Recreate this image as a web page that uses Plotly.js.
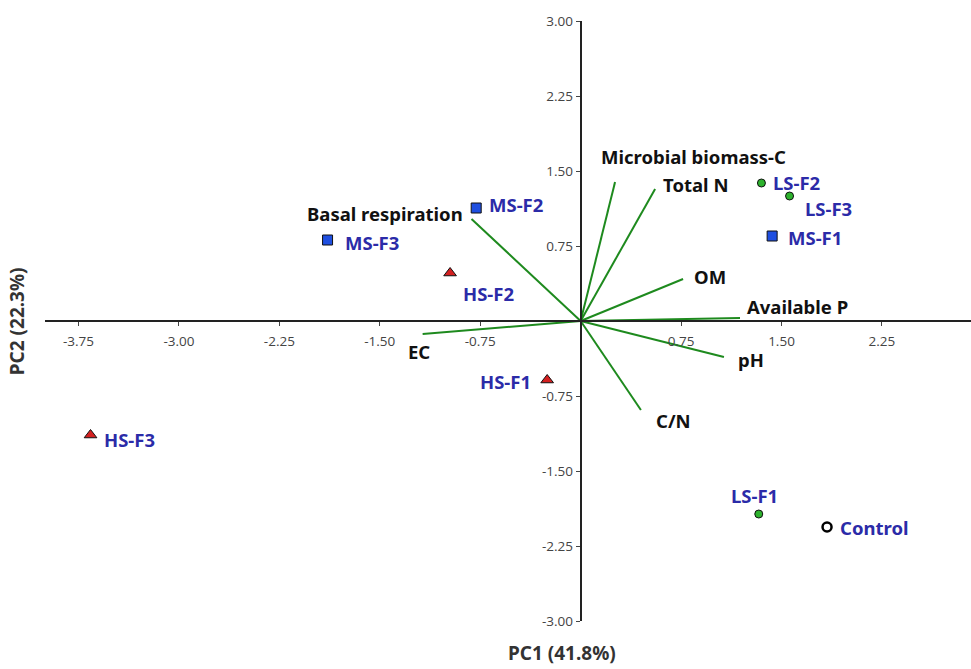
<!DOCTYPE html>
<html>
<head>
<meta charset="utf-8">
<script src="https://cdn.plot.ly/plotly-3.0.1.min.js"></script>
<style>html,body{margin:0;padding:0;background:#fff;}#chart{width:971px;height:669px;}</style>
</head>
<body>
<div id="chart"></div>
<script>
// Sample scores
const msNames = ["MS-F1", "MS-F2", "MS-F3"];
const msX = [1.43, -0.78, -1.89];
const msY = [0.85, 1.13, 0.81];

const hsNames = ["HS-F1", "HS-F2", "HS-F3"];
const hsX = [-0.25, -0.975, -3.66];
const hsY = [-0.59, 0.48, -1.14];

const lsNames = ["LS-F1", "LS-F2", "LS-F3"];
const lsX = [1.33, 1.35, 1.56];
const lsY = [-1.93, 1.38, 1.25];

const ctrlNames = ["Control"];
const ctrlX = [1.84];
const ctrlY = [-2.06];

// Variable loadings (arrow end points)
const varNames = ["Basal respiration", "Microbial biomass-C", "Total N", "OM", "Available P", "EC", "pH", "C/N"];
const varX = [-0.815, 0.257, 0.556, 0.765, 1.19, -1.18, 1.07, 0.45];
const varY = [1.02, 1.39, 1.32, 0.42, 0.03, -0.13, -0.36, -0.89];

// Tick labels
const xTickVals = [-3.75, -3.00, -2.25, -1.50, -0.75, 0.75, 1.50, 2.25];
const xTickText = ["-3.75", "-3.00", "-2.25", "-1.50", "-0.75", "0.75", "1.50", "2.25"];
const yTickVals = [3.00, 2.25, 1.50, 0.75, -0.75, -1.50, -2.25, -3.00];
const yTickText = ["3.00", "2.25", "1.50", "0.75", "-0.75", "-1.50", "-2.25", "-3.00"];

const xRange = [-4.0, 2.915];
const yRange = [-3, 3];

const traces = [];
// loading lines
varNames.forEach((n, i) => {
  traces.push({
    type: "scatter", mode: "lines",
    x: [0, varX[i]], y: [0, varY[i]],
    line: {color: "#1e8a1e", width: 2},
    hoverinfo: "skip", showlegend: false
  });
});
traces.push({type: "scatter", mode: "markers", x: msX, y: msY, text: msNames,
  marker: {symbol: "square", size: 10, color: "#1f4fe0", line: {color: "#111", width: 1}}, showlegend: false});
traces.push({type: "scatter", mode: "markers", x: hsX, y: hsY, text: hsNames,
  marker: {symbol: "triangle-up", size: 11, color: "#d42020", line: {color: "#111", width: 1}}, showlegend: false});
traces.push({type: "scatter", mode: "markers", x: lsX, y: lsY, text: lsNames,
  marker: {symbol: "circle", size: 8, color: "#2db22d", line: {color: "#111", width: 1}}, showlegend: false});
traces.push({type: "scatter", mode: "markers", x: ctrlX, y: ctrlY, text: ctrlNames,
  marker: {symbol: "circle", size: 9, color: "#ffffff", line: {color: "#000", width: 2.5}}, showlegend: false});

const blue = "#2b2ba8";
const fam = "Noto Sans, Open Sans, sans-serif";
const ptFont = {family: fam, size: 18.5, color: blue, weight: 700};
const varFont = {family: fam, size: 18.5, color: "#111", weight: 700};

// label offsets (pixels) for sample labels
const ptOffsets = {
  "MS-F1": [14, -1, "left"], "MS-F2": [11, 4, "left"], "MS-F3": [15, -2, "left"],
  "HS-F1": [-14, -1, "right"], "HS-F2": [11, -20, "left"], "HS-F3": [11, -4, "left"],
  "LS-F1": [-4, 19, "center"], "LS-F2": [10, 1, "left"], "LS-F3": [13, -12, "left"],
  "Control": [11, 0, "left"]
};
const varOffsets = {
  "Basal respiration": [-7, 6, "right"], "Microbial biomass-C": [-16, 26, "left"],
  "Total N": [6, 5, "left"], "OM": [9, 3, "left"], "Available P": [5, 12, "left"],
  "EC": [-4, -17, "center"], "pH": [12, -2, "left"], "C/N": [13, -10, "left"]
};

const annotations = [];
function addPts(names, xs, ys) {
  names.forEach((n, i) => {
    const o = ptOffsets[n];
    annotations.push({x: xs[i], y: ys[i], xref: "x", yref: "y", text: n, showarrow: false,
      xanchor: o[2], yanchor: "middle", xshift: o[0], yshift: o[1], font: ptFont});
  });
}
addPts(msNames, msX, msY);
addPts(hsNames, hsX, hsY);
addPts(lsNames, lsX, lsY);
addPts(ctrlNames, ctrlX, ctrlY);
varNames.forEach((n, i) => {
  const o = varOffsets[n];
  annotations.push({x: varX[i], y: varY[i], xref: "x", yref: "y", text: n, showarrow: false,
    xanchor: o[2], yanchor: "middle", xshift: o[0], yshift: o[1], font: varFont});
});
// axis titles
annotations.push({x: 0.558, y: -0.028, xref: "paper", yref: "paper", text: "PC1 (41.8%)", showarrow: false,
  xanchor: "center", yanchor: "top", font: {family: fam, size: 19, color: "#333", weight: 700}});
annotations.push({x: -0.03, y: 0.5, xref: "paper", yref: "paper", text: "PC2 (22.3%)", showarrow: false, textangle: -90,
  xanchor: "center", yanchor: "middle", font: {family: fam, size: 19, color: "#333", weight: 700}});

const yPos = (0 - xRange[0]) / (xRange[1] - xRange[0]);
const xPos = (0 - yRange[0]) / (yRange[1] - yRange[0]);

const tickFont = {family: "Open Sans, Noto Sans, sans-serif", size: 13.5, color: "#444"};
const layout = {
  width: 971, height: 669,
  margin: {l: 45, r: 0, t: 21, b: 48},
  paper_bgcolor: "#fff", plot_bgcolor: "#fff",
  showlegend: false,
  xaxis: {range: xRange, anchor: "free", position: xPos, showgrid: false, zeroline: false,
    showline: true, linecolor: "#222", linewidth: 2, ticks: "outside", ticklen: 4, tickcolor: "#444",
    ticklabelstandoff: 4,
    tickvals: xTickVals, ticktext: xTickText, tickfont: tickFont, fixedrange: true},
  yaxis: {range: yRange, anchor: "free", position: yPos, showgrid: false, zeroline: false,
    showline: true, linecolor: "#222", linewidth: 2, ticks: "outside", ticklen: 4, tickcolor: "#444",
    tickvals: yTickVals, ticktext: yTickText, tickfont: tickFont, fixedrange: true},
  annotations: annotations
};
Plotly.newPlot("chart", traces, layout, {displayModeBar: false, staticPlot: true});
</script>
</body>
</html>
